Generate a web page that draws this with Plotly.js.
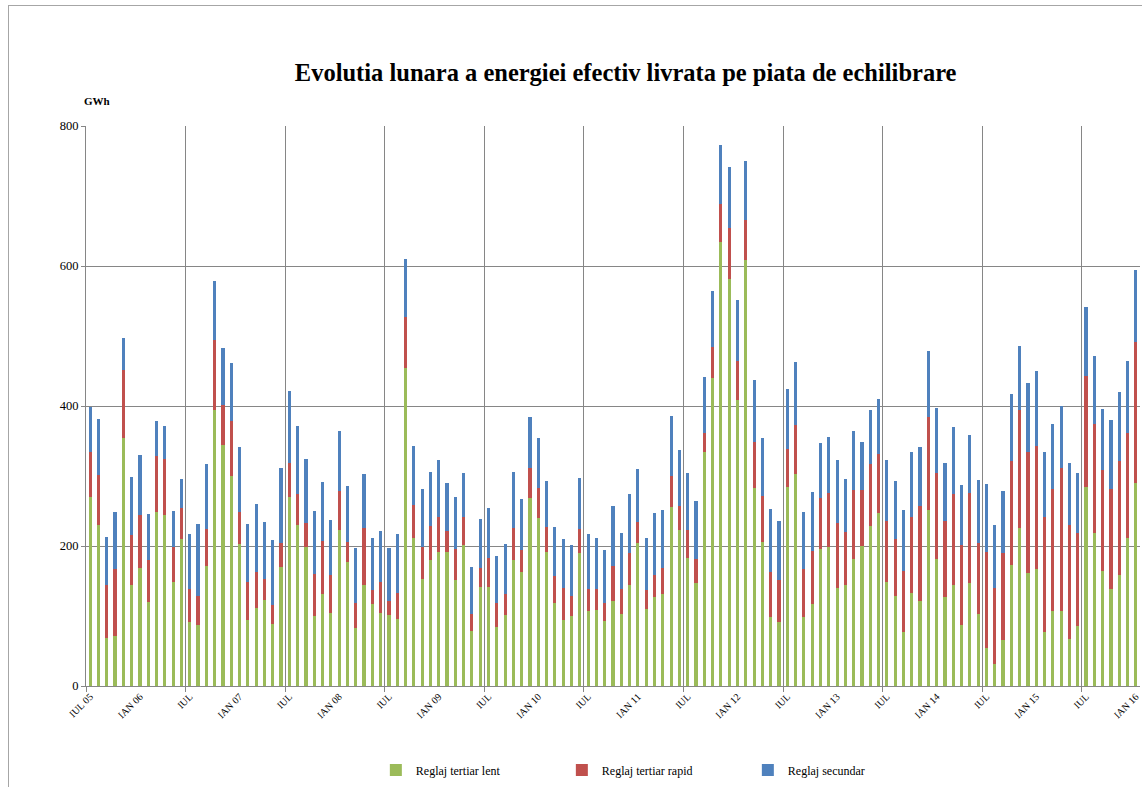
<!DOCTYPE html>
<html>
<head>
<meta charset="utf-8">
<script src="https://cdn.plot.ly/plotly-3.0.1.min.js"></script>
<style>
  html, body { margin: 0; padding: 0; background: #fff; overflow: hidden; }
  #frame { position: absolute; left: 8px; top: 5px; width: 1200px; height: 900px; border-left: 1px solid #a6a6a6; border-top: 1px solid #a6a6a6; }
  #chart { position: absolute; left: 0; top: 0; width: 1142px; height: 787px; }
</style>
</head>
<body>
<div id="frame"></div>
<div id="chart"></div>
<script>
// Monthly values (GWh), Jul 2005 .. Jan 2016
const reglajTertiarLent = [
  270,230,69,71,355,144,169,120,249,245,148,210,
  91,87,171,394,344,300,203,94,111,123,89,170,
  270,230,198,100,131,105,223,177,83,145,117,104,
  101,96,455,212,153,180,191,191,152,201,78,141,
  141,84,101,180,163,269,240,191,118,94,100,190,
  107,109,93,122,103,144,204,110,127,131,256,223,
  183,147,334,440,635,582,409,608,283,206,99,92,
  285,303,98,117,196,198,140,144,181,200,229,247,
  149,128,77,133,121,252,181,127,145,87,147,103,
  54,31,66,173,226,161,167,77,107,107,67,86,
  284,219,164,139,158,212,290
];
const reglajTertiarRapid = [
  64,72,76,96,97,72,75,60,80,80,51,45,
  47,41,54,100,57,78,45,54,52,30,27,35,
  48,45,35,60,76,53,55,29,35,81,20,45,
  20,37,72,46,45,48,50,31,44,40,25,27,
  42,34,31,46,32,43,43,36,39,46,28,34,
  32,30,26,49,35,46,30,27,31,38,44,34,
  40,34,27,45,54,73,55,58,66,66,64,59,
  53,70,69,76,73,78,93,76,99,80,88,85,
  87,82,88,109,136,132,123,109,130,115,129,102,
  138,109,124,148,168,174,176,164,175,205,163,133,
  159,155,144,142,164,150,201
];
const reglajSecundar = [
  64,80,68,82,45,82,86,66,49,46,51,41,
  79,104,92,85,82,84,94,83,97,81,92,106,
  104,96,91,90,84,79,86,80,79,77,74,72,
  76,84,83,85,83,78,82,68,74,63,67,71,
  71,68,71,80,72,73,72,66,70,70,74,73,
  78,72,75,86,80,84,76,74,89,82,86,80,
  82,84,80,79,84,86,87,84,88,82,90,85,
  87,90,82,84,78,80,90,76,85,68,78,78,
  87,83,86,92,85,95,93,83,95,85,83,90,
  97,90,88,96,92,98,107,93,92,88,89,85,
  98,98,88,99,98,103,103
];
const tickLabels = [
  'IUL 05','IAN 06','IUL','IAN 07','IUL','IAN 08','IUL','IAN 09','IUL','IAN 10','IUL',
  'IAN 11','IUL','IAN 12','IUL','IAN 13','IUL','IAN 14','IUL','IAN 15','IUL','IAN 16'
];

const idx = reglajTertiarLent.map((_, i) => i);
const tickVals = tickLabels.map((_, i) => i * 6);
const FONT = 'Liberation Serif, Times New Roman, serif';

const traces = [
  { type: 'bar', name: 'Reglaj tertiar lent', x: idx, y: reglajTertiarLent, marker: { color: '#9BBB59' } },
  { type: 'bar', name: 'Reglaj tertiar rapid', x: idx, y: reglajTertiarRapid, marker: { color: '#C0504D' } },
  { type: 'bar', name: 'Reglaj secundar', x: idx, y: reglajSecundar, marker: { color: '#4F81BD' } }
];

const layout = {
  width: 1142, height: 787,
  margin: { l: 86, r: 2, t: 126, b: 101 },
  paper_bgcolor: 'rgba(0,0,0,0)',
  plot_bgcolor: 'rgba(0,0,0,0)',
  barmode: 'stack',
  bargap: 0.62,
  font: { family: FONT, color: '#000', size: 12 },
  title: {
    text: '<b>Evolutia lunara a energiei efectiv livrata pe piata de echilibrare</b>',
    font: { family: FONT, size: 24.5, color: '#000' },
    x: 0.512, xref: 'paper', xanchor: 'center',
    y: 0.908, yref: 'container', yanchor: 'middle'
  },
  xaxis: {
    range: [-0.5, idx.length - 0.5],
    tickmode: 'array', tickvals: tickVals, ticktext: tickLabels,
    tickangle: -45, tickfont: { family: FONT, size: 10 },
    ticks: '', showgrid: false, zeroline: false,
    showline: true, linecolor: '#868686', linewidth: 1,
    minor: { tick0: -0.5, dtick: 12, showgrid: true, gridcolor: '#868686', gridwidth: 1, ticks: 'outside', ticklen: 5, tickcolor: '#868686' },
    fixedrange: true
  },
  yaxis: {
    range: [0, 800], tickvals: [0, 200, 400, 600, 800],
    tickfont: { family: FONT, size: 12.5 },
    showgrid: true, gridcolor: '#868686', gridwidth: 1,
    zeroline: false, showline: true, linecolor: '#868686', linewidth: 1,
    ticks: 'outside', ticklen: 4, tickcolor: '#868686',
    fixedrange: true
  },
  showlegend: true,
  legend: {
    orientation: 'h', x: 0.275, xanchor: 'left', y: -0.15, yanchor: 'middle',
    font: { family: FONT, size: 12 }, traceorder: 'normal',
    entrywidth: 141, entrywidthmode: 'pixels', bgcolor: 'rgba(0,0,0,0)'
  },
  annotations: [
    { text: '<b>GWh</b>', xref: 'paper', yref: 'paper', x: -0.004, y: 1.045, xanchor: 'left', yanchor: 'middle', showarrow: false, font: { family: FONT, size: 11 } }
  ]
};

Plotly.newPlot('chart', traces, layout, { displayModeBar: false, staticPlot: true });
</script>
</body>
</html>
